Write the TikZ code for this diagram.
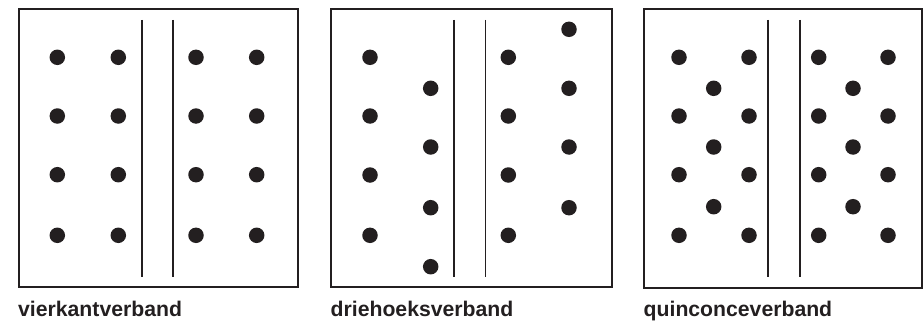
\documentclass[tikz,border=0pt]{standalone}
\usepackage{fontspec}
\setmainfont{Liberation Sans}
\definecolor{ink}{HTML}{231F20}
\begin{document}
\begin{tikzpicture}[x=1pt,y=-1pt,
  frame/.style={draw=ink,line width=2pt},
  wall/.style={draw=ink,line width=1.6pt},
  pile/.style={circle,fill=ink,inner sep=0pt,minimum size=15.5pt},
  caption/.style={anchor=base west,inner sep=0pt,text=ink,font=\fontsize{21.2}{25}\selectfont\bfseries}]
\useasboundingbox (0,0) rectangle (923,321);
% panel 1
\draw[frame] (19,9) rectangle (298,287);
\coordinate (a1t) at (141.7,20); \coordinate (a1b) at (141.7,277);
\coordinate (a2t) at (172.7,20); \coordinate (a2b) at (172.7,277);
\draw[wall] (a1t) -- (a1b);
\draw[wall] (a2t) -- (a2b);
\foreach \x [count=\i] in {57.3,118.3,196,256.7}
  \foreach \y [count=\j] in {57.3,116,174.7,235.3}
    \node[pile] (v\i\j) at (\x,\y) {};
\node[caption] (c1) at (18,316) {vierkantverband};
% panel 2
\draw[frame] (331,9) rectangle (611.5,287);
\coordinate (b1t) at (454,20); \coordinate (b1b) at (454,277);
\coordinate (b2t) at (485.3,20); \coordinate (b2b) at (485.3,277);
\draw[wall] (b1t) -- (b1b);
\draw[wall] (b2t) -- (b2b);
\foreach \y [count=\j] in {57.3,116,175,235.3}
  {\node[pile] (d1\j) at (370,\y) {};
   \node[pile] (d3\j) at (508.3,\y) {};}
\foreach \y [count=\j] in {88.3,147,207.7,266.7}
  \node[pile] (d2\j) at (430.7,\y) {};
\foreach \y [count=\j] in {29.3,88.3,147,207.7}
  \node[pile] (d4\j) at (569,\y) {};
\node[caption] (c2) at (330.5,316) {driehoeksverband};
% panel 3
\draw[frame] (644,9.3) rectangle (921.5,287.5);
\coordinate (q1t) at (768,20); \coordinate (q1b) at (768,277);
\coordinate (q2t) at (799.7,20); \coordinate (q2b) at (799.7,277);
\draw[wall] (q1t) -- (q1b);
\draw[wall] (q2t) -- (q2b);
\foreach \y [count=\j] in {57.3,116,174.7,235.3}
  {\node[pile] (q1\j) at (679,\y) {};
   \node[pile] (q3\j) at (749,\y) {};
   \node[pile] (q4\j) at (818.7,\y) {};
   \node[pile] (q6\j) at (888,\y) {};}
\foreach \y [count=\j] in {88.3,147,206.7}
  {\node[pile] (q2\j) at (713.7,\y) {};
   \node[pile] (q5\j) at (853,\y) {};}
\node[caption] (c3) at (643.5,316) {quinconceverband};
\end{tikzpicture}
\end{document}
